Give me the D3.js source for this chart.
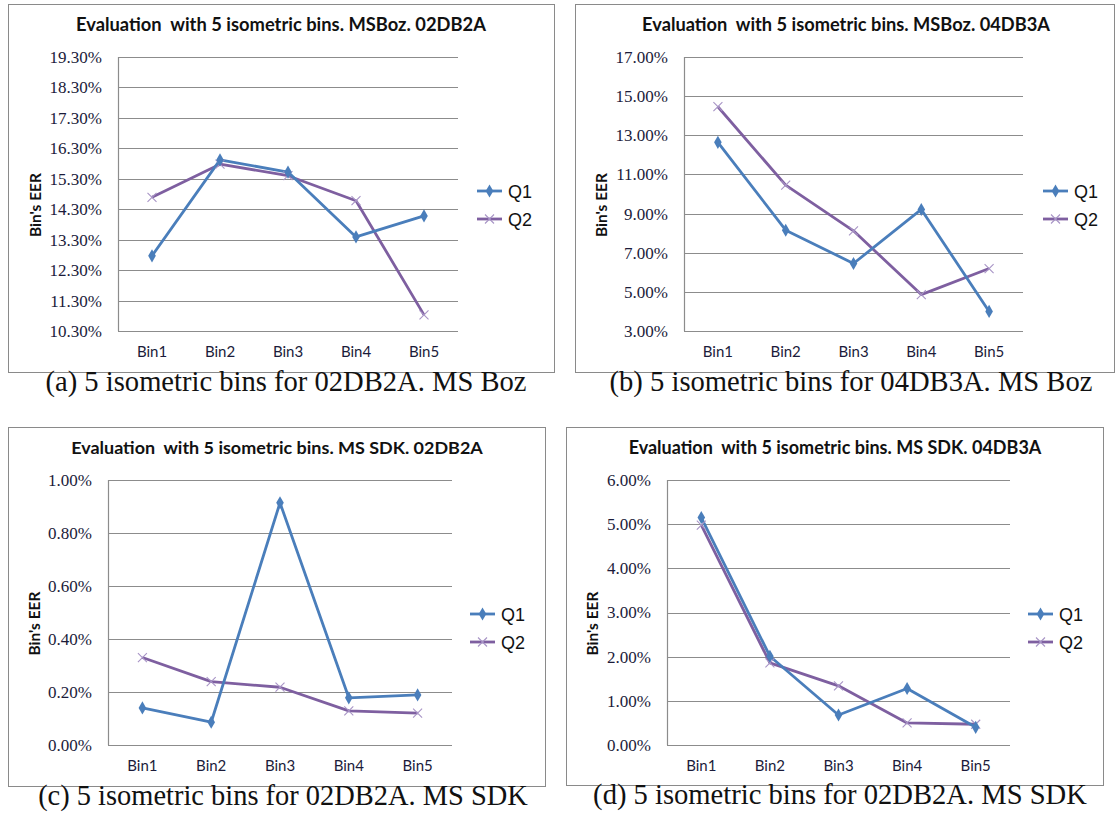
<!DOCTYPE html>
<html>
<head>
<meta charset="utf-8">
<script src="https://cdn.jsdelivr.net/npm/d3@7"></script>
<style>
  html, body { margin: 0; padding: 0; background: #fff; }
  svg { display: block; }
  .pre { white-space: pre; }
</style>
</head>
<body>
<svg id="chart" width="1115" height="816"></svg>
<script>
// ---------- DATA ----------
const categories = ["Bin1", "Bin2", "Bin3", "Bin4", "Bin5"];
const seriesNames = ["Q1", "Q2"];

const titles = [
  "Evaluation  with 5 isometric bins. MSBoz. 02DB2A",
  "Evaluation  with 5 isometric bins. MSBoz. 04DB3A",
  "Evaluation  with 5 isometric bins. MS SDK. 02DB2A",
  "Evaluation  with 5 isometric bins. MS SDK. 04DB3A"
];
const captions = [
  "(a) 5 isometric bins for 02DB2A. MS Boz",
  "(b) 5 isometric bins for 04DB3A. MS Boz",
  "(c) 5 isometric bins for 02DB2A. MS SDK",
  "(d) 5 isometric bins for 02DB2A. MS SDK"
];
const yAxisTitle = "Bin's EER";

// values in percent
const aQ1 = [12.77, 15.92, 15.52, 13.39, 14.08];
const aQ2 = [14.69, 15.78, 15.40, 14.58, 10.83];
const bQ1 = [12.64, 8.15, 6.45, 9.21, 4.00];
const bQ2 = [14.46, 10.45, 8.12, 4.86, 6.19];
const cQ1 = [0.14, 0.086, 0.914, 0.178, 0.189];
const cQ2 = [0.33, 0.239, 0.218, 0.129, 0.12];
const dQ1 = [5.15, 2.01, 0.68, 1.28, 0.40];
const dQ2 = [4.98, 1.86, 1.34, 0.50, 0.47];

// tick values (percent)
const aTicks = [10.3, 11.3, 12.3, 13.3, 14.3, 15.3, 16.3, 17.3, 18.3, 19.3];
const bTicks = [3, 5, 7, 9, 11, 13, 15, 17];
const cTicks = [0, 0.2, 0.4, 0.6, 0.8, 1.0];
const dTicks = [0, 1, 2, 3, 4, 5, 6];

// ---------- LAYOUT ----------
const panels = [
  { q1: aQ1, q2: aQ2, ticks: aTicks, frame: [8, 4, 554, 372], plot: [118, 57, 458, 331],
    titleX: 281, titleW: 410, capX: 286, capW: 481, yLabX: 36, legX: 477 },
  { q1: bQ1, q2: bQ2, ticks: bTicks, frame: [575, 4, 1114, 372], plot: [684, 57, 1023, 331],
    titleX: 846, titleW: 408, capX: 851, capW: 483, yLabX: 602, legX: 1043 },
  { q1: cQ1, q2: cQ2, ticks: cTicks, frame: [8, 427, 545, 786], plot: [108, 480, 452, 745],
    titleX: 277, titleW: 412, capX: 283, capW: 490, yLabX: 35, legX: 470 },
  { q1: dQ1, q2: dQ2, ticks: dTicks, frame: [566, 427, 1103, 785], plot: [667, 480, 1010, 745],
    titleX: 835, titleW: 413, capX: 840, capW: 494, yLabX: 593, legX: 1028 }
];

const colQ1 = "#4a7ebb";
const colQ2 = "#7e5fa0";
const colQ2Marker = "#a894c6";
const gridCol = "#8c8c8c";
const textCol = "#1b1b3a";

const svg = d3.select("#chart");

function fitWidth(sel, target) {
  const node = sel.node();
  const fs = parseFloat(sel.attr("font-size"));
  const w = node.getComputedTextLength();
  if (w > 0) sel.attr("font-size", (fs * target / w).toFixed(2));
}

function xMark(g, x, y, r, color) {
  g.append("path")
    .attr("d", `M${x - r},${y - r}L${x + r},${y + r}M${x - r},${y + r}L${x + r},${y - r}`)
    .attr("stroke", color).attr("stroke-width", 1.1).attr("fill", "none");
}

panels.forEach((p, i) => {
  const [fx0, fy0, fx1, fy1] = p.frame;
  const [px0, py0, px1, py1] = p.plot;
  const g = svg.append("g");

  // frame
  g.append("rect")
    .attr("x", fx0 + 0.5).attr("y", fy0 + 0.5)
    .attr("width", fx1 - fx0).attr("height", fy1 - fy0)
    .attr("fill", "#fff").attr("stroke", "#8a8a8a").attr("stroke-width", 1);

  const x = d3.scaleBand().domain(categories).range([px0, px1]);
  const y = d3.scaleLinear().domain([p.ticks[0], p.ticks[p.ticks.length - 1]]).range([py1, py0]);
  const cx = c => x(c) + x.bandwidth() / 2;

  // gridlines
  g.append("g").selectAll("line").data(p.ticks).join("line")
    .attr("x1", px0).attr("x2", px1)
    .attr("y1", d => Math.round(y(d)) + 0.5).attr("y2", d => Math.round(y(d)) + 0.5)
    .attr("stroke", gridCol).attr("stroke-width", 1.2);

  // y axis line
  g.append("line")
    .attr("x1", px0 + 0.5).attr("x2", px0 + 0.5).attr("y1", py0).attr("y2", py1)
    .attr("stroke", gridCol).attr("stroke-width", 1.2);

  // y tick labels
  const yAxis = d3.axisLeft(y).tickValues(p.ticks).tickSize(0).tickPadding(16)
    .tickFormat(d => d.toFixed(2) + "%");
  const ya = g.append("g").attr("transform", `translate(${px0},0)`).call(yAxis);
  ya.select(".domain").remove();
  ya.selectAll("text")
    .attr("font-family", "'Liberation Serif', 'DejaVu Serif', serif")
    .attr("font-size", 17).attr("fill", textCol);

  // x labels
  const xAxis = d3.axisBottom(x).tickSize(0).tickPadding(15);
  const xa = g.append("g").attr("transform", `translate(0,${py1})`).call(xAxis);
  xa.select(".domain").remove();
  xa.selectAll("text")
    .attr("font-family", "Lato, 'Open Sans', sans-serif")
    .attr("font-size", 15).attr("fill", textCol);

  // title
  const t = g.append("text")
    .attr("class", "pre")
    .attr("x", p.titleX).attr("y", fy0 + 27)
    .attr("text-anchor", "middle")
    .attr("font-family", "Lato, 'Open Sans', sans-serif")
    .attr("font-weight", "bold").attr("font-size", 13.5).attr("fill", "#111")
    .text(titles[i]);
  fitWidth(t, p.titleW);

  // y axis title
  const yMid = (py0 + py1) / 2 + 11;
  const yt = g.append("text")
    .attr("transform", `translate(${p.yLabX + 5},${yMid}) rotate(-90)`)
    .attr("text-anchor", "middle")
    .attr("font-family", "Lato, 'Open Sans', sans-serif")
    .attr("font-weight", "bold").attr("font-size", 14).attr("fill", "#111")
    .text(yAxisTitle);
  fitWidth(yt, 64);

  // lines
  const line = d3.line().x((d, j) => cx(categories[j])).y(d => y(d));
  g.append("path").datum(p.q2).attr("d", line)
    .attr("fill", "none").attr("stroke", colQ2).attr("stroke-width", 2.8)
    .attr("stroke-linejoin", "round");
  g.append("path").datum(p.q1).attr("d", line)
    .attr("fill", "none").attr("stroke", colQ1).attr("stroke-width", 2.8)
    .attr("stroke-linejoin", "round");

  // markers
  p.q2.forEach((v, j) => xMark(g, cx(categories[j]), y(v), 4.5, colQ2Marker));
  g.append("g").selectAll("path").data(p.q1).join("path")
    .attr("d", d3.symbol().type(d3.symbolDiamond).size(50))
    .attr("transform", (d, j) => `translate(${cx(categories[j])},${y(d)})`)
    .attr("fill", colQ1);

  // legend
  const legY = [py0 + 134, py0 + 162];
  seriesNames.forEach((s, k) => {
    const ly = legY[k];
    g.append("line").attr("x1", p.legX).attr("x2", p.legX + 25)
      .attr("y1", ly).attr("y2", ly)
      .attr("stroke", k === 0 ? colQ1 : colQ2).attr("stroke-width", 2.8);
    if (k === 0) {
      g.append("path").attr("d", d3.symbol().type(d3.symbolDiamond).size(50))
        .attr("transform", `translate(${p.legX + 12.5},${ly})`).attr("fill", colQ1);
    } else {
      xMark(g, p.legX + 12.5, ly, 4.5, colQ2Marker);
    }
    g.append("text").attr("x", p.legX + 31).attr("y", ly + 6.5)
      .attr("font-family", "'Liberation Sans', Arial, sans-serif")
      .attr("font-size", 18).attr("fill", "#111").text(s);
  });

  // caption
  const c = svg.append("text")
    .attr("x", p.capX).attr("y", fy1 + 19)
    .attr("text-anchor", "middle")
    .attr("font-family", "'Liberation Serif', 'DejaVu Serif', serif")
    .attr("font-size", 23).attr("fill", "#111")
    .text(captions[i]);
  fitWidth(c, p.capW);
});
</script>
</body>
</html>
